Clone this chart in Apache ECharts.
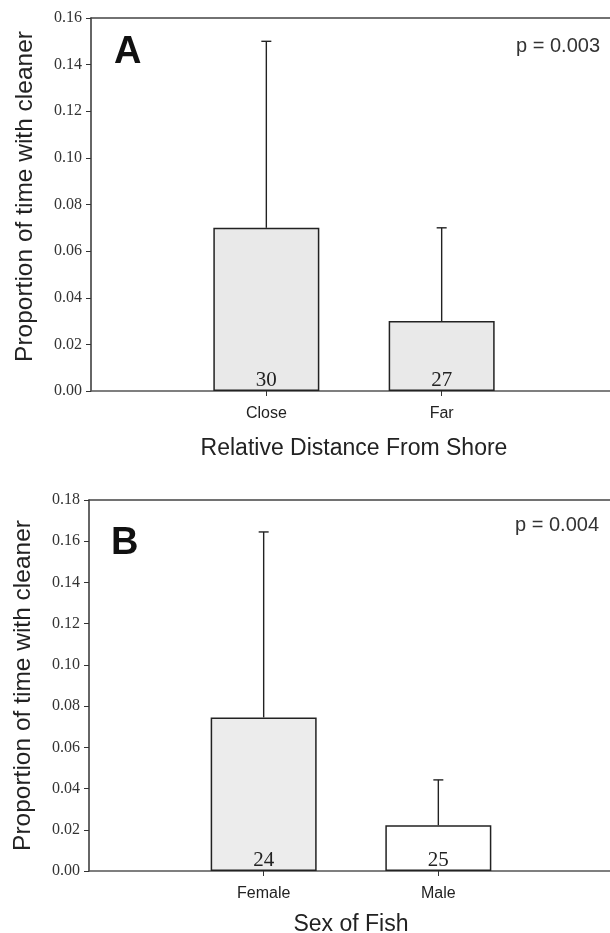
<!DOCTYPE html>
<html>
<head>
<meta charset="utf-8">
<script src="https://cdn.jsdelivr.net/npm/echarts@6/dist/echarts.min.js"></script>
<style>
  html, body { margin: 0; padding: 0; background: #fff; }
  #chart { width: 610px; height: 933px; }
</style>
</head>
<body>
<div id="chart"></div>
<script>
// ---- Data ----
const categoriesA = ['Close', 'Far'];
const meansA = [0.070, 0.030];
const errorsA = [0.080, 0.040];
const countsA = ['30', '27'];
const pLabelA = 'p = 0.003';

const categoriesB = ['Female', 'Male'];
const meansB = [0.0745, 0.0222];
const errorsB = [0.090, 0.022];
const countsB = ['24', '25'];
const pLabelB = 'p = 0.004';

const yMaxA = 0.16;
const yMaxB = 0.18;
const yStep = 0.02;

const yTitle = 'Proportion of time with cleaner';
const xTitleA = 'Relative Distance From Shore';
const xTitleB = 'Sex of Fish';

// ---- Styles ----
const barColorsA = ['#e9e9e9', '#e9e9e9'];
const barColorsB = ['#ececec', '#ffffff'];

// pad categories so that the two bars sit at 1/3 and 2/3 of the axis
function padCats(c) { return [''].concat(c, ['']); }
function barData(means, colors) {
  return ['-'].concat(means.map((m, i) => ({ value: m, itemStyle: { color: colors[i] } })), ['-']);
}
function errData(means, errs) {
  return means.map((m, i) => [i + 1, m, m + errs[i]]);
}

const sans = '"Liberation Sans", Arial, sans-serif';
const serif = '"Liberation Serif", "Times New Roman", serif';

function xAxisFor(gi, cats, title, gap) {
  return [{
    gridIndex: gi, type: 'category', data: padCats(cats), boundaryGap: false,
    axisLine: { show: true, lineStyle: { color: '#555', width: 1.5 } },
    axisTick: { show: true, length: 5, interval: (idx) => idx > 0 && idx <= cats.length, lineStyle: { color: '#333' } },
    axisLabel: { interval: 0, margin: 15, fontFamily: sans, fontSize: 16, color: '#222' },
    splitLine: { show: false },
    name: title, nameLocation: 'middle', nameGap: gap,
    nameTextStyle: { fontFamily: sans, fontSize: 23, color: '#222' }
  }, {
    gridIndex: gi, type: 'category', data: padCats(cats), boundaryGap: false, position: 'top',
    axisLine: { show: true, lineStyle: { color: '#444', width: 1.5 } },
    axisTick: { show: false }, axisLabel: { show: false }, splitLine: { show: false }
  }];
}

function yAxisFor(gi, max, pad) {
  return {
    gridIndex: gi, type: 'value', min: 0, max: max, interval: yStep,
    axisLine: { show: true, lineStyle: { color: '#333', width: 1.5 } },
    axisTick: { show: true, length: 5, lineStyle: { color: '#333' } },
    axisLabel: { formatter: (v) => v.toFixed(2), fontFamily: serif, fontSize: 16, color: '#333', margin: 9 },
    splitLine: { show: false },
    name: yTitle, nameLocation: 'middle', nameGap: 53,
    nameTextStyle: { fontFamily: sans, fontSize: 24.5, color: '#222', padding: pad }
  };
}

function barSeries(xi, gi, means, colors, counts) {
  return {
    type: 'bar', xAxisIndex: xi, yAxisIndex: gi, barWidth: 106,
    data: barData(means, colors),
    itemStyle: { borderColor: '#222', borderWidth: 1.5 },
    label: {
      show: true, position: 'insideBottom', distance: 0,
      formatter: (p) => counts[p.dataIndex - 1],
      fontFamily: serif, fontSize: 21, color: '#222'
    },
    silent: true
  };
}

function errSeries(xi, gi, means, errs) {
  return {
    type: 'custom', xAxisIndex: xi, yAxisIndex: gi, z: 5,
    data: errData(means, errs),
    renderItem: function (params, api) {
      const base = api.coord([api.value(0), api.value(1)]);
      const top = api.coord([api.value(0), api.value(2)]);
      const cap = 5;
      const style = { stroke: '#222', lineWidth: 1.4 };
      return {
        type: 'group',
        children: [
          { type: 'line', shape: { x1: base[0], y1: base[1], x2: top[0], y2: top[1] }, style: style },
          { type: 'line', shape: { x1: top[0] - cap, y1: top[1], x2: top[0] + cap, y2: top[1] }, style: style }
        ]
      };
    },
    silent: true
  };
}

const chart = echarts.init(document.getElementById('chart'), null, { renderer: 'canvas' });
chart.setOption({
  animation: false,
  backgroundColor: '#ffffff',
  grid: [
    { left: 91, top: 18, width: 526, height: 373, outerBoundsMode: 'none', containLabel: false },
    { left: 89, top: 500, width: 524, height: 371, outerBoundsMode: 'none', containLabel: false }
  ],
  xAxis: [].concat(xAxisFor(0, categoriesA, xTitleA, 46), xAxisFor(1, categoriesB, xTitleB, 42)),
  yAxis: [yAxisFor(0, yMaxA, [0, 0, 0, 16]), yAxisFor(1, yMaxB, 0)],
  series: [
    barSeries(0, 0, meansA, barColorsA, countsA),
    errSeries(0, 0, meansA, errorsA),
    barSeries(2, 1, meansB, barColorsB, countsB),
    errSeries(2, 1, meansB, errorsB)
  ],
  graphic: [
    { type: 'text', left: 114, top: 34, style: { text: 'A', font: 'bold 38px ' + sans, fill: '#111' } },
    { type: 'text', right: 10, top: 36, style: { text: pLabelA, font: '20px ' + sans, fill: '#333' } },
    { type: 'text', left: 111, top: 525, style: { text: 'B', font: 'bold 38px ' + sans, fill: '#111' } },
    { type: 'text', right: 11, top: 515, style: { text: pLabelB, font: '20px ' + sans, fill: '#333' } }
  ]
});
</script>
</body>
</html>
